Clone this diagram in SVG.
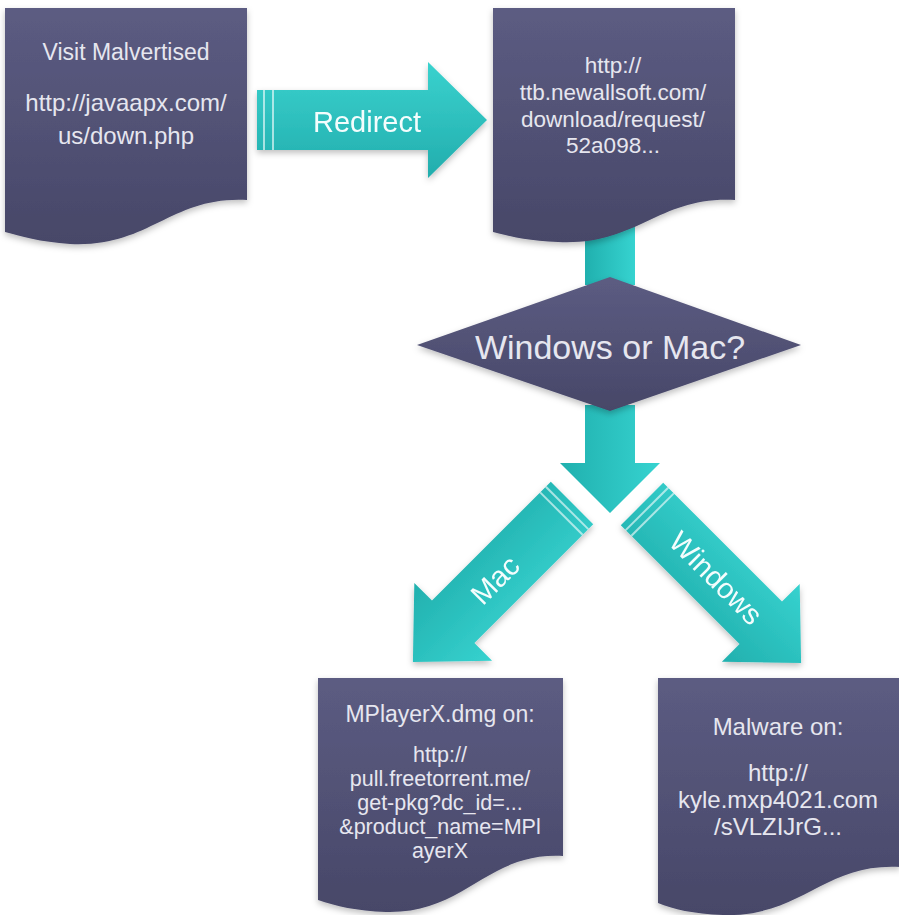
<svg xmlns="http://www.w3.org/2000/svg" width="899" height="915" viewBox="0 0 899 915">
<defs>
<linearGradient id="nodeGrad" x1="0" y1="0" x2="0" y2="1">
<stop offset="0" stop-color="#5c5c82"/>
<stop offset="1" stop-color="#474768"/>
</linearGradient>
<linearGradient id="tealV" x1="0" y1="0" x2="0" y2="1">
<stop offset="0" stop-color="#3ad2ce"/>
<stop offset="1" stop-color="#22adad"/>
</linearGradient>
<linearGradient id="tealH" x1="0" y1="0" x2="1" y2="0">
<stop offset="0" stop-color="#20b0ae"/>
<stop offset="1" stop-color="#36d3d0"/>
</linearGradient>
<linearGradient id="tealArrow" x1="0" y1="0" x2="0" y2="1">
<stop offset="0" stop-color="#36d2cf"/>
<stop offset="1" stop-color="#22b0ae"/>
</linearGradient>
<filter id="shadow" x="-10%" y="-10%" width="120%" height="130%">
<feDropShadow dx="0" dy="3" stdDeviation="3" flood-color="#000" flood-opacity="0.25"/>
</filter>
</defs>
<style>
.node{fill:url(#nodeGrad);filter:url(#shadow);}
.txt{font-family:"Liberation Sans",Arial,sans-serif;fill:#e6e6ef;text-anchor:middle;}
.stripe{stroke:#ffffff;stroke-opacity:0.6;stroke-width:2;fill:none;}
.lbl{font-family:"Liberation Sans",Arial,sans-serif;fill:#f4fdfd;text-anchor:middle;}
</style>
<rect width="899" height="915" fill="#ffffff"/>

<g id="connectors">
<rect x="585" y="215" width="50" height="70" fill="url(#tealH)"/>
<g id="redirect-arrow" filter="url(#shadow)">
<path d="M257,90 H428 V62 L487,120 L428,178 V150 H257 Z" fill="url(#tealV)"/>
<line class="stripe" x1="264" y1="90" x2="264" y2="150"/>
<line class="stripe" x1="273" y1="90" x2="273" y2="150"/>
<text class="lbl" x="367" y="132" font-size="29">Redirect</text>
</g>
<path d="M585,405 H635 V463 H660 L610,513 L560,463 H585 Z" fill="url(#tealH)"/>
<g id="mac-arrow" filter="url(#shadow)">
<g transform="translate(572,503) rotate(135)">
<path d="M0,-30 H168 V-55 L225,0 L168,55 V30 H0 Z" fill="url(#tealArrow)"/>
<line class="stripe" x1="7" y1="-30" x2="7" y2="30"/>
<line class="stripe" x1="15" y1="-30" x2="15" y2="30"/>
</g>
<text class="lbl" font-size="29" transform="translate(495,580) rotate(-45)" y="10">Mac</text>
</g>
<g id="windows-arrow" filter="url(#shadow)">
<g transform="translate(642,504) rotate(45)">
<path d="M0,-30 H168 V-55 L225,0 L168,55 V30 H0 Z" fill="url(#tealArrow)"/>
<line class="stripe" x1="7" y1="-30" x2="7" y2="30"/>
<line class="stripe" x1="15" y1="-30" x2="15" y2="30"/>
</g>
<text class="lbl" font-size="29" transform="translate(716,578) rotate(45)" y="10">Windows</text>
</g>
</g>

<g id="node-visit">
<path class="node" d="M5,8 H247 V200 C170,196 150,248 70,244 C40,242 20,236 5,232 Z"/>
<text class="txt" font-size="23" x="126" y="60">Visit Malvertised</text>
<text class="txt" font-size="24" x="126" y="111">http://javaapx.com/</text>
<text class="txt" font-size="24" x="126" y="144">us/down.php</text>
</g>

<g id="node-ttb">
<path class="node" d="M493,8 H735 V200 C658,196 638,246 558,242 C528,241 508,236 493,232 Z"/>
<text class="txt" font-size="22.5" x="613" y="73">http://</text>
<text class="txt" font-size="22.5" x="613" y="100">ttb.newallsoft.com/</text>
<text class="txt" font-size="22.5" x="613" y="127">download/request/</text>
<text class="txt" font-size="22.5" x="613" y="153">52a098...</text>
</g>

<g id="node-decision">
<path d="M610,277 L801,345 L610,411 L417,345 Z" fill="url(#nodeGrad)" filter="url(#shadow)"/>
<text class="txt" font-size="34" x="610" y="359">Windows or Mac?</text>
</g>

<g id="node-mac">
<path class="node" d="M318,678 H563 V856 C486,852 466,914 386,912 C356,911 336,906 318,900 Z"/>
<text class="txt" font-size="23" x="440" y="722">MPlayerX.dmg on:</text>
<text class="txt" font-size="21.5" x="440" y="762">http://</text>
<text class="txt" font-size="21.5" x="440" y="786">pull.freetorrent.me/</text>
<text class="txt" font-size="21.5" x="440" y="810">get-pkg?dc_id=...</text>
<text class="txt" font-size="21.5" x="440" y="834">&amp;product_name=MPl</text>
<text class="txt" font-size="21.5" x="440" y="858">ayerX</text>
</g>

<g id="node-windows">
<path class="node" d="M658,678 H900 V867 C823,863 803,917 723,915 C693,914 673,909 658,903 Z"/>
<text class="txt" font-size="24" x="778" y="735">Malware on:</text>
<text class="txt" font-size="24" x="778" y="781">http://</text>
<text class="txt" font-size="24" x="778" y="808">kyle.mxp4021.com</text>
<text class="txt" font-size="24" x="778" y="835">/sVLZIJrG...</text>
</g>
</svg>
